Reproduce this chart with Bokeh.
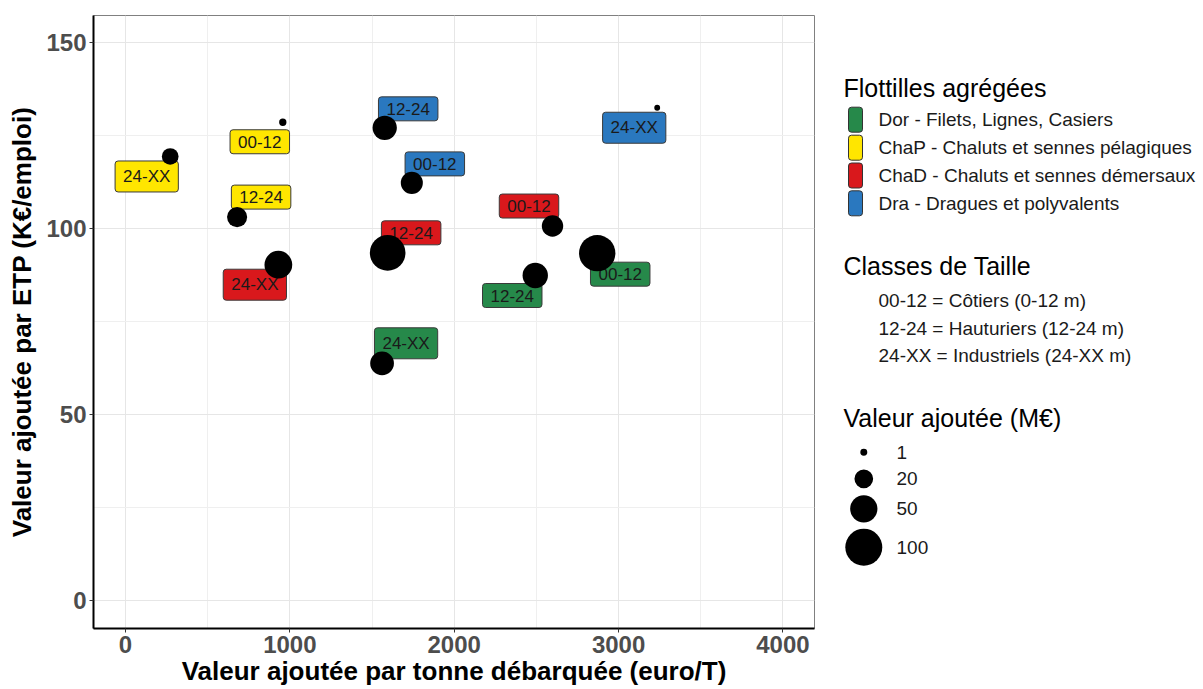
import numpy as np
from bokeh.plotting import figure
from bokeh.models import Range1d, FixedTicker, ColumnDataSource
from bokeh.layouts import row
from bokeh.core.properties import value
from bokeh.embed import file_html
from bokeh.resources import INLINE

# ---------------- data ----------------
flottilles = ["Dor", "Dor", "Dor", "ChaP", "ChaP", "ChaP",
              "ChaD", "ChaD", "ChaD", "Dra", "Dra", "Dra"]
tailles = ["00-12", "12-24", "24-XX"] * 4
va_par_tonne = [2870, 2493, 1561, 957, 679, 272, 2598, 1595, 930, 1742, 1577, 3235]
va_par_etp = [93.4, 87.4, 63.8, 128.6, 103.1, 119.4, 100.7, 93.5, 90.3, 112.3, 127.1, 132.5]
va_totale = [96, 42, 36, 1.2, 24, 15, 28, 92, 52, 30, 38, 0.5]

flot_codes = ["Dor", "ChaP", "ChaD", "Dra"]
flot_labels = ["Dor - Filets, Lignes, Casiers",
               "ChaP - Chaluts et sennes pélagiques",
               "ChaD - Chaluts et sennes démersaux",
               "Dra - Dragues et polyvalents"]
flot_colors = ["#26894A", "#FFE600", "#D9181C", "#2A78BF"]

classes_labels = ["00-12 = Côtiers (0-12 m)",
                  "12-24 = Hauturiers (12-24 m)",
                  "24-XX = Industriels (24-XX m)"]
size_breaks = [1, 20, 50, 100]

x_ticks = [0, 1000, 2000, 3000, 4000]
y_ticks = [0, 50, 100, 150]

# label nudges (screen px) -- layout
nudge_x = [23, -23, 24, -23, 24, -23.5, -23.5, 23.5, -23.5, 23, 23.5, -23]
nudge_y = [21, 20, -20, 19.5, -20, 20, -20, -20, 20, -19, -19, 20]


def size_px(v):
    v = np.asarray(v, dtype=float)
    return 4 + np.sqrt(np.maximum(0, 10.9 * v - 2))


cmap = dict(zip(flot_codes, flot_colors))
src = ColumnDataSource(dict(
    x=va_par_tonne, y=va_par_etp, txt=tailles,
    col=[cmap[f] for f in flottilles],
    size=size_px(va_totale), dx=nudge_x, dy=nudge_y))

FONT = "Liberation Sans"
H = 688
TOP, BOT = 15, 628

p = figure(width=824, height=H, output_backend="svg", toolbar_location=None,
           x_range=Range1d(-194.7, 4192), y_range=Range1d(-7.5, 157.3),
           min_border_left=93, min_border_right=10, min_border_top=TOP,
           min_border_bottom=H - BOT)
p.background_fill_color = "white"
p.outline_line_color = "#808080"
p.outline_line_width = 1

p.xaxis.ticker = FixedTicker(ticks=x_ticks, minor_ticks=[500, 1500, 2500, 3500])
p.yaxis.ticker = FixedTicker(ticks=y_ticks, minor_ticks=[25, 75, 125])
for g in (p.xgrid, p.ygrid):
    g.grid_line_color = "#E6E6E6"
    g.grid_line_width = 1
    g.minor_grid_line_color = "#EFEFEF"
    g.minor_grid_line_width = 1

for ax in (p.xaxis, p.yaxis):
    ax.axis_line_color = "black"
    ax.axis_line_width = 2
    ax.major_tick_line_color = "#333333"
    ax.major_tick_out = 4
    ax.major_tick_in = 0
    ax.minor_tick_line_color = None
    ax.major_label_text_font = FONT
    ax.major_label_text_font_style = "bold"
    ax.major_label_text_font_size = "24px"
    ax.major_label_text_color = "#4D4D4D"
    ax.axis_label_text_font = FONT
    ax.axis_label_text_font_style = "bold"
    ax.axis_label_text_font_size = "26px"
    ax.axis_label_text_color = "black"
    ax.major_label_standoff = 3

p.xaxis.axis_label = "Valeur ajoutée par tonne débarquée (euro/T)"
p.yaxis.axis_label = "Valeur ajoutée par ETP (K€/emploi)"
p.xaxis.axis_label_standoff = 0
p.yaxis.axis_label_standoff = 6

p.text(x="x", y="y", text="txt", source=src, x_offset="dx", y_offset="dy",
       text_align="center", text_baseline="middle",
       text_font=value(FONT), text_font_size="17px", text_color="#1a1a1a",
       background_fill_color="col", border_line_color="#3a3a3a",
       border_line_width=1, padding=dict(left=8, right=8, top=6, bottom=6),
       border_radius=3)
p.scatter(x="x", y="y", size="size", source=src, fill_color="black",
          line_color=None)

# ---------------- legend panel ----------------
LW = 1202 - 824
leg = figure(width=LW, height=H, output_backend="svg", toolbar_location=None,
             x_range=Range1d(824, 824 + LW), y_range=Range1d(BOT, TOP),
             x_axis_location=None, y_axis_location=None,
             min_border_left=0, min_border_right=0,
             min_border_top=TOP, min_border_bottom=H - BOT)
leg.grid.visible = False
leg.outline_line_color = None

title_kw = dict(text_align="left", text_baseline="middle", text_font=value(FONT),
                text_font_size="25px", text_color="black")
item_kw = dict(text_align="left", text_baseline="middle", text_font=value(FONT),
               text_font_size="19px", text_color="#1a1a1a")

leg.text(x=[843, 843, 843], y=[87, 265, 417],
         text=["Flottilles agrégées", "Classes de Taille", "Valeur ajoutée (M€)"],
         **title_kw)

key_y = [119.2, 147.2, 175, 202.8]
leg.rect(x=[855] * 4, y=key_y, width=14, height=25, fill_color=flot_colors,
         line_color="#333333", line_width=1, border_radius=3)
leg.text(x=[878] * 4, y=key_y, text=flot_labels, **item_kw)

leg.text(x=[878] * 3, y=[300, 327.7, 355], text=classes_labels, **item_kw)

size_y = [451.7, 478.3, 508.3, 546.7]
leg.scatter(x=[863.3] * 4, y=size_y, size=size_px(size_breaks),
            fill_color="black", line_color=None)
leg.text(x=[896] * 4, y=size_y, text=[str(b) for b in size_breaks], **item_kw)

layout = row(p, leg)
open("out.html", "w").write(file_html(layout, INLINE))
